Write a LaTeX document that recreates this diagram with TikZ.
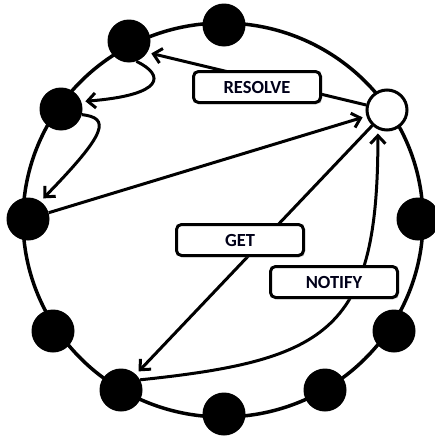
\documentclass[tikz,border=0pt]{standalone}
\usepackage{fontspec}
\setmainfont{Carlito}
\usetikzlibrary{arrows.meta,shadows}
\begin{document}
\begin{tikzpicture}[x=1pt,y=-1pt,
  peer/.style={circle,fill=black,minimum size=43pt,inner sep=0pt},
  self/.style={circle,draw=black,line width=3pt,fill=white,minimum size=40pt,inner sep=0pt},
  lbl/.style={draw=black,line width=3pt,rounded corners=5pt,fill=white,
    minimum width=127pt,minimum height=31pt,inner sep=0pt,
    font=\bfseries\fontsize{18.5}{20}\selectfont,text=black!90!blue,
    drop shadow={shadow xshift=1.6pt,shadow yshift=-1.8pt,fill=black!30}},
  ring/.style={line width=3.5pt},
  arr/.style={line width=3pt,shorten >=4pt,
    -{Straight Barb[length=8pt,width=15pt,line width=3pt]}}]
\useasboundingbox (0,0) rectangle (435,439);
% ring
\draw[ring] (223,220) ellipse [x radius=200pt,y radius=197pt];
% peers
\node[peer] (T)  at (224,25)  {};
\node[peer] (UL) at (129,41)  {};
\node[peer] (LU) at (61,109)  {};
\node[peer] (L)  at (28,219)  {};
\node[peer] (LL) at (53,331)  {};
\node[peer] (BL) at (121,390) {};
\node[peer] (B)  at (224,414) {};
\node[peer] (BR) at (325,390) {};
\node[peer] (RL) at (394,331) {};
\node[peer] (R)  at (418,219) {};
\node[self] (W)  at (387,110) {};
% connectors
\draw[arr] (W) -- (UL.-32);
\draw[arr] (UL.-70) .. controls (165,75) and (165,95) .. (LU.20);
\draw[arr] (LU.-15) .. controls (110,118) and (108,132) .. (L.55);
\draw[arr] (L) -- (W);
\draw[arr] (W) -- (BL);
\draw[arr] (BL.28) .. controls (330,360) and (378,330) .. (W.-115);
% labels
\node[lbl] (resolve) at (257,87)  {RESOLVE};
\node[lbl] (get)     at (240,240) {GET};
\node[lbl] (notify)  at (334,282) {NOTIFY};
\end{tikzpicture}
\end{document}
